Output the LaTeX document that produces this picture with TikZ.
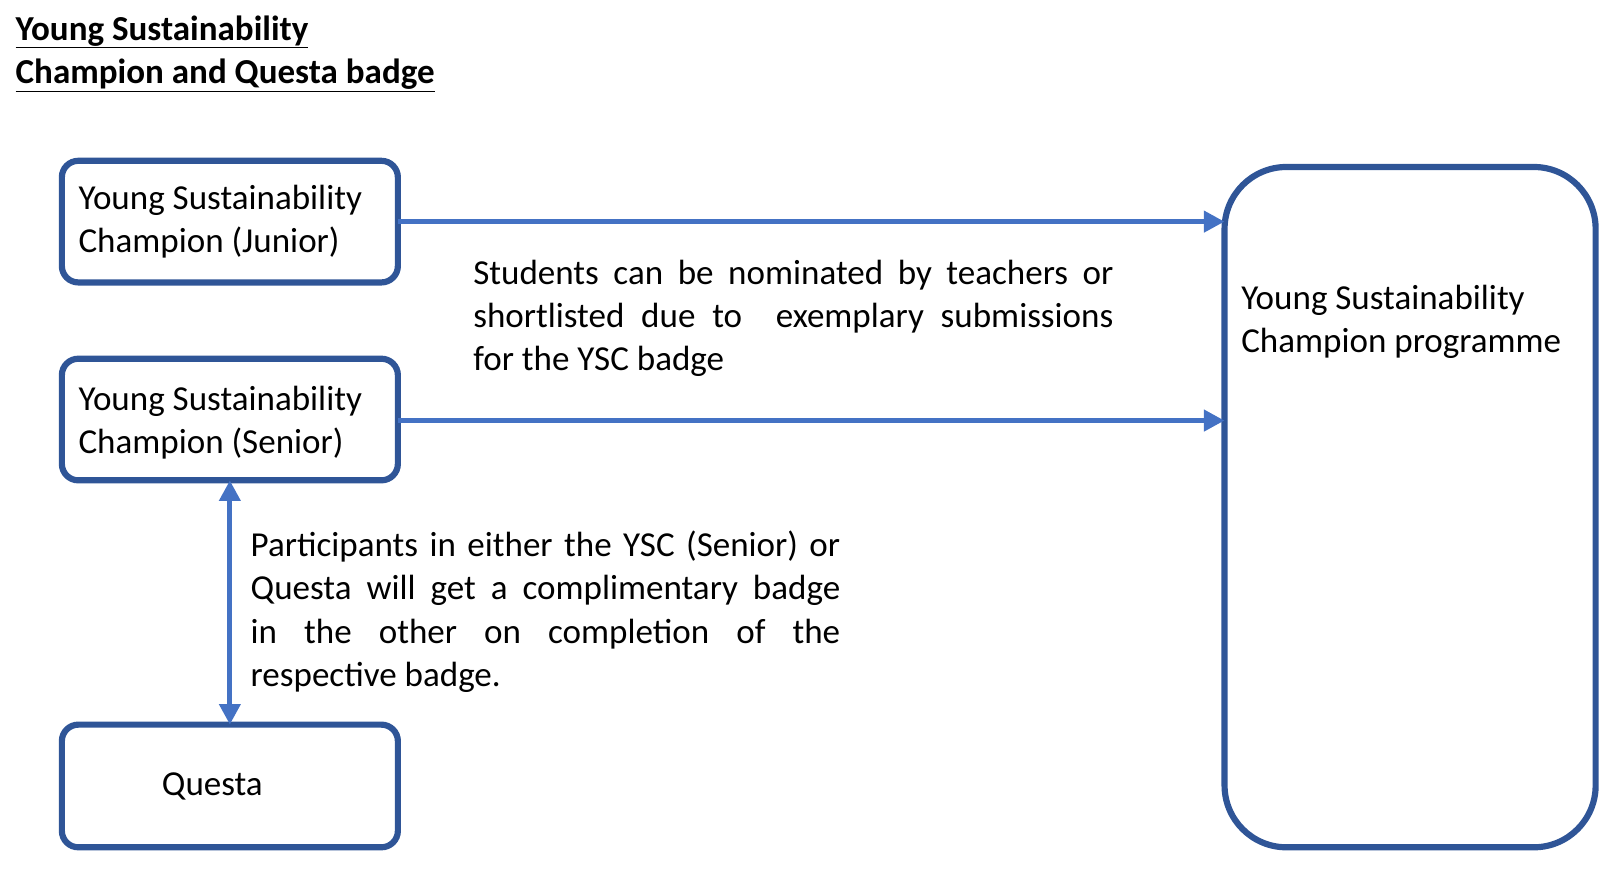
\documentclass[tikz,border=0pt]{standalone}
\usepackage{fontspec}
\setmainfont{Carlito}
\usetikzlibrary{arrows.meta}
\definecolor{bx}{HTML}{2F5597}
\definecolor{ar}{HTML}{4472C4}
\newcommand{\jl}[2]{\makebox[#1][s]{#2}}
\begin{document}
\begin{tikzpicture}[x=1pt,y=-1pt,
  box/.style={draw=bx,line width=6pt,rounded corners=16pt},
  arr/.style={draw=ar,line width=5pt,-{Triangle[length=20pt,width=20pt]}},
  txt/.style={font=\fontsize{34}{42}\selectfont,inner sep=0pt,anchor=north west,align=left}]
\useasboundingbox (0,0) rectangle (1560,850);
\node[txt,font=\fontsize{34}{42}\selectfont\bfseries] (t) at (15,15) {\underline{Young Sustainability}\\\underline{Champion and Questa badge}};
\draw[box] (60,156) rectangle (386,274);
\node[txt,anchor=west] (j) at (76,215) {Young Sustainability\\Champion (Junior)};
\draw[box] (60,348) rectangle (386,466);
\node[txt,anchor=west] (s) at (76,410) {Young Sustainability\\Champion (Senior)};
\draw[box] (60,703) rectangle (386,822);
\node[txt,anchor=center] (q) at (206,763) {Questa};
\draw[box,rounded corners=60pt] (1188,162) rectangle (1548,822);
\node[txt] (p) at (1204,276) {Young Sustainability\\Champion programme};
\coordinate (a1) at (386,215); \coordinate (b1) at (1188,215);
\coordinate (a2) at (386,408); \coordinate (b2) at (1188,408);
\coordinate (v1) at (223,466); \coordinate (v2) at (223,703);
\draw[arr] (a1) -- (b1);
\draw[arr] (a2) -- (b2);
\draw[arr,{Triangle[length=20pt,width=20pt]}-{Triangle[length=20pt,width=20pt]}] (v1) -- (v2);
\node[txt] (n1) at (459,252) {\jl{621pt}{Students can be nominated by teachers or}\\\jl{621pt}{shortlisted due to \ exemplary submissions}\\for the YSC badge};
\node[txt] (n2) at (243,515) {\jl{572pt}{Participants in either the YSC (Senior) or}\\\jl{572pt}{Questa will get a complimentary badge}\\\jl{572pt}{in the other on completion of the}\\respective badge.};
\end{tikzpicture}
\end{document}
